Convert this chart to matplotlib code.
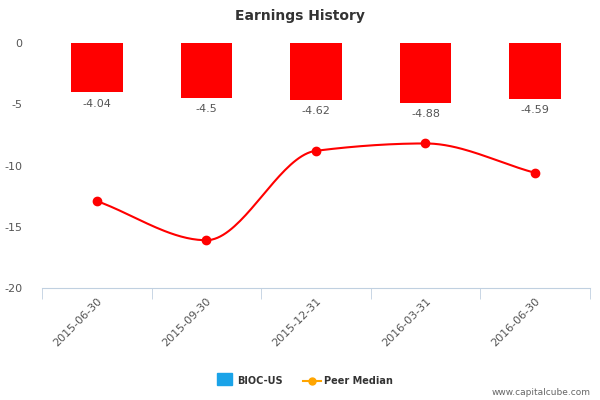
import matplotlib
matplotlib.use("Agg")
import matplotlib.pyplot as plt
import numpy as np

categories = ["2015-06-30", "2015-09-30", "2015-12-31", "2016-03-31", "2016-06-30"]
bioc = [-4.04, -4.5, -4.62, -4.88, -4.59]
peer = [-12.9, -16.1, -8.8, -8.2, -10.6]
yticks = [0, -5, -10, -15, -20]

fig = plt.figure(figsize=(6, 4), dpi=100)
ax = fig.add_axes([0.07, 0.28, 0.913, 0.6125])
x = np.arange(len(categories))
ax.bar(x, bioc, width=0.47, color="#ff0000", zorder=2)
for xi, v in zip(x, bioc):
    ax.text(xi, v - 0.5, f"{v:g}", ha="center", va="top", fontsize=8, color="#555555")

xs = x.astype(float); ys = np.array(peer)
d = np.diff(ys) / np.diff(xs)
m = np.zeros_like(ys)
m[0], m[-1] = d[0], d[-1]
for i in range(1, len(ys) - 1):
    m[i] = 0 if d[i-1] * d[i] <= 0 else 2 / (1/d[i-1] + 1/d[i])
xx, yy = [], []
for i in range(len(xs) - 1):
    t = np.linspace(0, 1, 40)
    h = xs[i+1] - xs[i]
    h00 = 2*t**3 - 3*t**2 + 1; h10 = t**3 - 2*t**2 + t
    h01 = -2*t**3 + 3*t**2; h11 = t**3 - t**2
    xx.extend(xs[i] + t*h)
    yy.extend(h00*ys[i] + h10*h*m[i] + h01*ys[i+1] + h11*h*m[i+1])
ax.plot(xx, yy, color="#ff0000", lw=1.5, zorder=3)
ax.plot(xs, ys, "o", color="#ff0000", ms=6, zorder=4, clip_on=False)

ax.set_xlim(-0.5, 4.5)
ax.set_ylim(-20, 0)
ax.set_yticks(yticks)
ax.set_yticklabels([str(t) for t in yticks], fontsize=8, color="#555555")
ax.set_xticks(x)
ax.set_xticklabels(categories, rotation=45, ha="right", rotation_mode="anchor", fontsize=8, color="#555555")
ax.tick_params(axis="y", length=0, pad=14)
ax.tick_params(axis="x", length=0, pad=6)
ax.set_xticks(np.arange(-0.5, 5.0, 1), minor=True)
ax.tick_params(axis="x", which="minor", length=8, color="#c0d0e0")
for s in ["top", "right", "left"]:
    ax.spines[s].set_visible(False)
ax.spines["bottom"].set_color("#c0d0e0")

fig.text(0.5, 0.96, "Earnings History", ha="center", va="center", fontsize=10, fontweight="bold", color="#333333")
fig.patches.append(plt.Rectangle((0.362, 0.037), 0.025, 0.03, transform=fig.transFigure, color="#1aa3e8"))
fig.text(0.395, 0.048, "BIOC-US", fontsize=7, fontweight="bold", color="#333333", va="center")
fig.lines.append(plt.Line2D([0.505, 0.535], [0.048, 0.048], transform=fig.transFigure, color="#ffa500", lw=1.5))
fig.lines.append(plt.Line2D([0.52], [0.048], transform=fig.transFigure, color="#ffa500", marker="o", ms=5))
fig.text(0.54, 0.048, "Peer Median", fontsize=7, fontweight="bold", color="#333333", va="center")
fig.text(0.985, 0.018, "www.capitalcube.com", fontsize=6.5, color="#666666", ha="right", va="center")
fig.savefig("out.png", dpi=100)
